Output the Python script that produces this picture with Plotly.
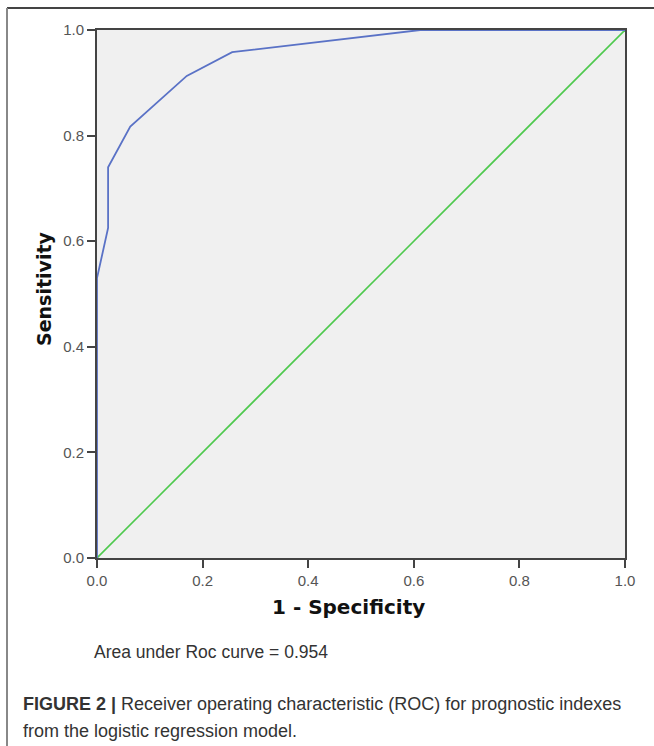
import plotly.graph_objects as go

# ROC curve data
fpr = [0.0, 0.0, 0.021, 0.021, 0.063, 0.170, 0.256, 0.612, 1.0]
tpr = [0.0, 0.530, 0.625, 0.740, 0.817, 0.913, 0.958, 1.0, 1.0]
ref_x = [0.0, 1.0]
ref_y = [0.0, 1.0]
tick_vals = [0.0, 0.2, 0.4, 0.6, 0.8, 1.0]
tick_text = ["0.0", "0.2", "0.4", "0.6", "0.8", "1.0"]
auc_text = "Area under Roc curve = 0.954"
caption_1 = "<b>FIGURE 2 |</b> Receiver operating characteristic (ROC) for prognostic indexes"
caption_2 = "from the logistic regression model."

W, H = 654, 746
L, R, T, B = 97, 29, 30, 188
PW = W - L - R
PH = H - T - B


def px(xp):
    return (xp - L) / PW


def py(yp):
    return (H - B - yp) / PH


fig = go.Figure()
fig.add_trace(go.Scatter(x=ref_x, y=ref_y, mode="lines",
                         line=dict(color="#4ec94e", width=1.6), showlegend=False))
fig.add_trace(go.Scatter(x=fpr, y=tpr, mode="lines",
                         line=dict(color="#5a72c6", width=1.8), showlegend=False))

axis_common = dict(range=[0, 1], showgrid=False, zeroline=False, showline=True,
                   linecolor="#444444", linewidth=2, mirror=True,
                   ticks="outside", ticklen=8, tickwidth=2, tickcolor="#444444",
                   tickvals=tick_vals, ticktext=tick_text,
                   tickfont=dict(family="Liberation Sans, Arial", size=15, color="#555555"))

fig.update_layout(
    width=W, height=H,
    margin=dict(l=L, r=R, t=T, b=B, pad=0),
    paper_bgcolor="white", plot_bgcolor="#f0f0f0",
    xaxis=dict(axis_common),
    yaxis=dict(axis_common),
    showlegend=False,
)

annotations = [
    dict(text="<b>Sensitivity</b>", x=px(44), y=py(289), textangle=-90,
         font=dict(family="DejaVu Sans", size=19, color="#111111")),
    dict(text="<b>1 - Specificity</b>", x=px(348), y=py(607),
         font=dict(family="DejaVu Sans", size=20, color="#111111")),
    dict(text=auc_text, x=px(92), y=py(652), xanchor="left",
         font=dict(family="Liberation Sans, Arial", size=17.5, color="#333333")),
    dict(text=caption_1, x=px(21), y=py(704), xanchor="left",
         font=dict(family="Liberation Sans, Arial", size=18, color="#333333")),
    dict(text=caption_2, x=px(21), y=py(731), xanchor="left",
         font=dict(family="Liberation Sans, Arial", size=18, color="#333333")),
]
for a in annotations:
    a.setdefault("xanchor", "center")
    a.update(xref="paper", yref="paper", yanchor="middle", showarrow=False)
fig.update_layout(annotations=annotations)

fig.update_layout(shapes=[
    dict(type="line", xref="paper", yref="paper", x0=px(7), x1=px(654), y0=py(8), y1=py(8),
         line=dict(color="#444444", width=2)),
    dict(type="line", xref="paper", yref="paper", x0=px(7), x1=px(7), y0=py(8), y1=py(746),
         line=dict(color="#888888", width=2)),
])

fig.write_html(
    "out.html",
    config={"displayModeBar": False},
    post_script="document.body.style.margin='0';document.body.style.overflow='hidden';",
)
